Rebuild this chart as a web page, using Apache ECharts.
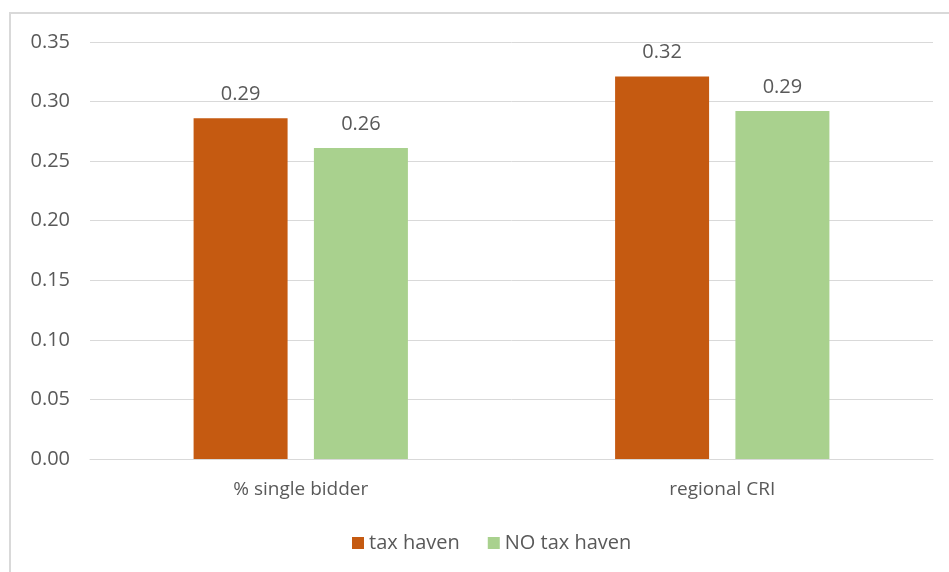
<!DOCTYPE html>
<html>
<head>
<meta charset="utf-8">
<script src="https://cdn.jsdelivr.net/npm/echarts@6/dist/echarts.min.js"></script>
<style>
html,body{margin:0;padding:0;background:#fff;}
#chart{width:949px;height:572px;}
</style>
</head>
<body>
<div id="chart"></div>
<script>
const categories = ['% single bidder', 'regional CRI'];
const taxHaven = [0.286, 0.321];
const noTaxHaven = [0.261, 0.292];
const seriesNames = ['tax haven', 'NO tax haven'];
const yTicks = { min: 0, max: 0.35, interval: 0.05 };

const textColor = '#595959';
const font = 'Open Sans';
const chart = echarts.init(document.getElementById('chart'));
const labelOpt = {
  show: true, position: 'top', distance: 14,
  color: textColor, fontFamily: font, fontSize: 20,
  formatter: p => p.value.toFixed(2)
};
chart.setOption({
  animation: false,
  graphic: [{
    type: 'rect', silent: true,
    shape: { x: 10, y: 13, width: 980, height: 620 },
    style: { fill: 'none', stroke: '#d9d9d9', lineWidth: 2 }
  }],
  grid: { left: 90, right: 16, top: 42, bottom: 113, containLabel: false },
  legend: {
    data: seriesNames,
    left: 347, top: 528,
    icon: 'rect', itemWidth: 12, itemHeight: 12, itemGap: 28,
    textStyle: { color: textColor, fontFamily: font, fontSize: 20, padding: [0, 0, 0, 0] }
  },
  xAxis: {
    type: 'category', data: categories,
    axisLine: { lineStyle: { color: '#d9d9d9', width: 1 } },
    axisTick: { show: false },
    axisLabel: { color: textColor, fontFamily: font, fontSize: 19, margin: 21 }
  },
  yAxis: {
    type: 'value', min: yTicks.min, max: yTicks.max, interval: yTicks.interval,
    axisLine: { show: false }, axisTick: { show: false },
    splitLine: { lineStyle: { color: '#d9d9d9', width: 1 } },
    axisLabel: { color: textColor, fontFamily: font, fontSize: 20, margin: 20,
      formatter: v => v.toFixed(2) }
  },
  series: [
    { name: seriesNames[0], type: 'bar', data: taxHaven, barWidth: 94, barGap: '28%',
      itemStyle: { color: '#C55A11' }, label: labelOpt },
    { name: seriesNames[1], type: 'bar', data: noTaxHaven, barWidth: 94, barGap: '28%',
      itemStyle: { color: '#A9D18E' }, label: labelOpt }
  ]
});
</script>
</body>
</html>
